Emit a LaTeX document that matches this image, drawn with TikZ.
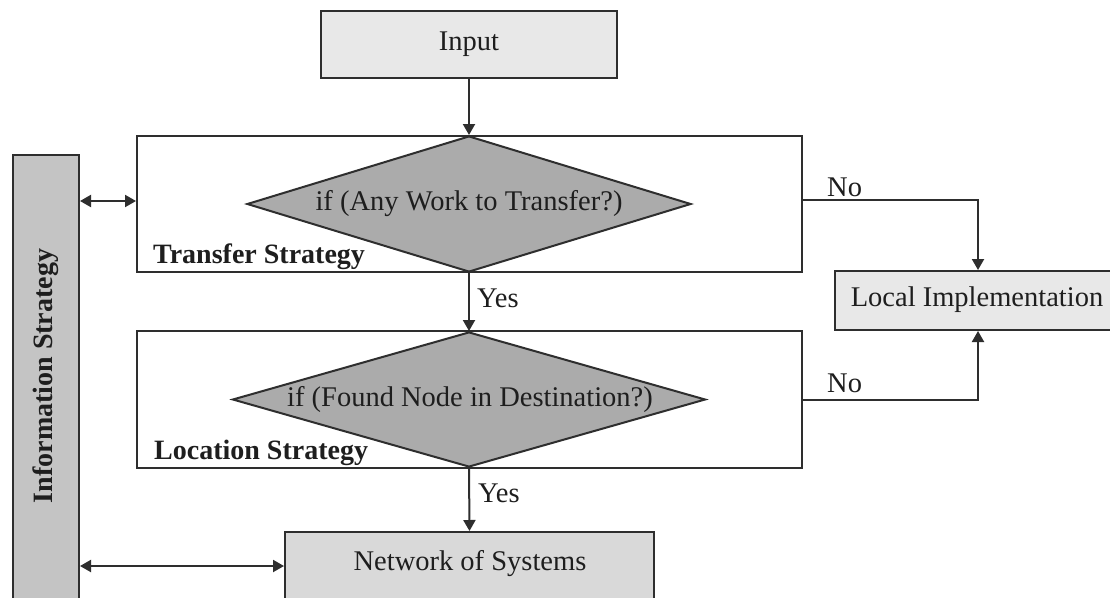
\documentclass[tikz,border=0pt]{standalone}
\usepackage{fontspec}
\setmainfont{Liberation Serif}
\usetikzlibrary{shapes.geometric,arrows.meta}
\definecolor{lin}{HTML}{2E2E2E}
\definecolor{lightbox}{HTML}{E8E8E8}
\definecolor{netbox}{HTML}{D9D9D9}
\definecolor{diafill}{HTML}{ABABAB}
\definecolor{infofill}{HTML}{C4C4C4}
\definecolor{txt}{HTML}{1E1E1E}
\begin{document}
\begin{tikzpicture}[x=1pt,y=-1pt,
  font=\fontsize{28.5}{32}\selectfont, text=txt,
  box/.style={draw=lin, line width=2pt, inner sep=0pt},
  dia/.style={diamond, draw=lin, fill=diafill, line width=2pt, inner sep=0pt},
  lbl/.style={inner sep=0pt, anchor=base west},
  blbl/.style={inner sep=0pt, anchor=base west, font=\fontsize{28}{32}\selectfont\bfseries},
  arr/.style={draw=lin, line width=2pt, -{Triangle[length=11pt,width=12pt]}},
  darr/.style={draw=lin, line width=2pt, {Triangle[length=11pt,width=12pt]}-{Triangle[length=11pt,width=12pt]}}]
\useasboundingbox (0,0) rectangle (1110,597);
\clip (0,0) rectangle (1110,597);
\fill[white] (0,0) rectangle (1110,597);

% boxes
\node[box, fill=lightbox, minimum width=296pt, minimum height=67pt] (input) at (469,44.5) {Input};
\node[box, fill=white, minimum width=665pt, minimum height=136pt] (tbox) at (469.5,204) {};
\node[box, fill=white, minimum width=665pt, minimum height=137pt] (lbox) at (469.5,399.5) {};
\node[box, fill=lightbox, minimum width=286pt, minimum height=59pt] (local) at (978,300.5) {};
\node[inner sep=0pt] (localtxt) at (977,300) {Local Implementation};
\node[box, fill=netbox, minimum width=369pt, minimum height=68pt] (net) at (469.5,566) {};
\node[inner sep=0pt] (nettxt) at (470,564) {Network of Systems};
\node[box, fill=infofill, minimum width=66pt, minimum height=446pt] (info) at (46,378) {};
\node[inner sep=0pt, rotate=90, font=\fontsize{28}{32}\selectfont\bfseries] (infotxt) at (46,376) {Information Strategy};

% diamonds
\node[dia, minimum width=444pt, minimum height=136pt] (d1) at (469,204) {};
\node[inner sep=0pt] (d1txt) at (469,204) {if (Any Work to Transfer?)};
\node[dia, minimum width=473pt, minimum height=135pt] (d2) at (469,399.5) {};
\node[inner sep=0pt] (d2txt) at (470,399) {if (Found Node in Destination?)};

% labels
\node[blbl] (tlabel) at (153,263) {Transfer Strategy};
\node[blbl] (llabel) at (154,459) {Location Strategy};
\node[lbl] (yes1) at (477,307) {Yes};
\node[lbl] (yes2) at (478,502) {Yes};
\node[lbl] (no1) at (827,196) {No};
\node[lbl] (no2) at (827,392) {No};

% connectors
\draw[arr] (input.south) -- (d1.north);
\draw[arr] (d1.south) -- (d2.north);
\draw[arr] (d2.south) -- (net.north);
\draw[arr] ([yshift=4pt]tbox.east) -| (local.north);
\draw[arr] (lbox.east) -| (local.south);
\coordinate (tl) at ([yshift=3pt]tbox.west);
\draw[darr] (info.east |- tl) -- (tl);
\draw[darr] (info.east |- net.west) -- (net.west);
\end{tikzpicture}
\end{document}
